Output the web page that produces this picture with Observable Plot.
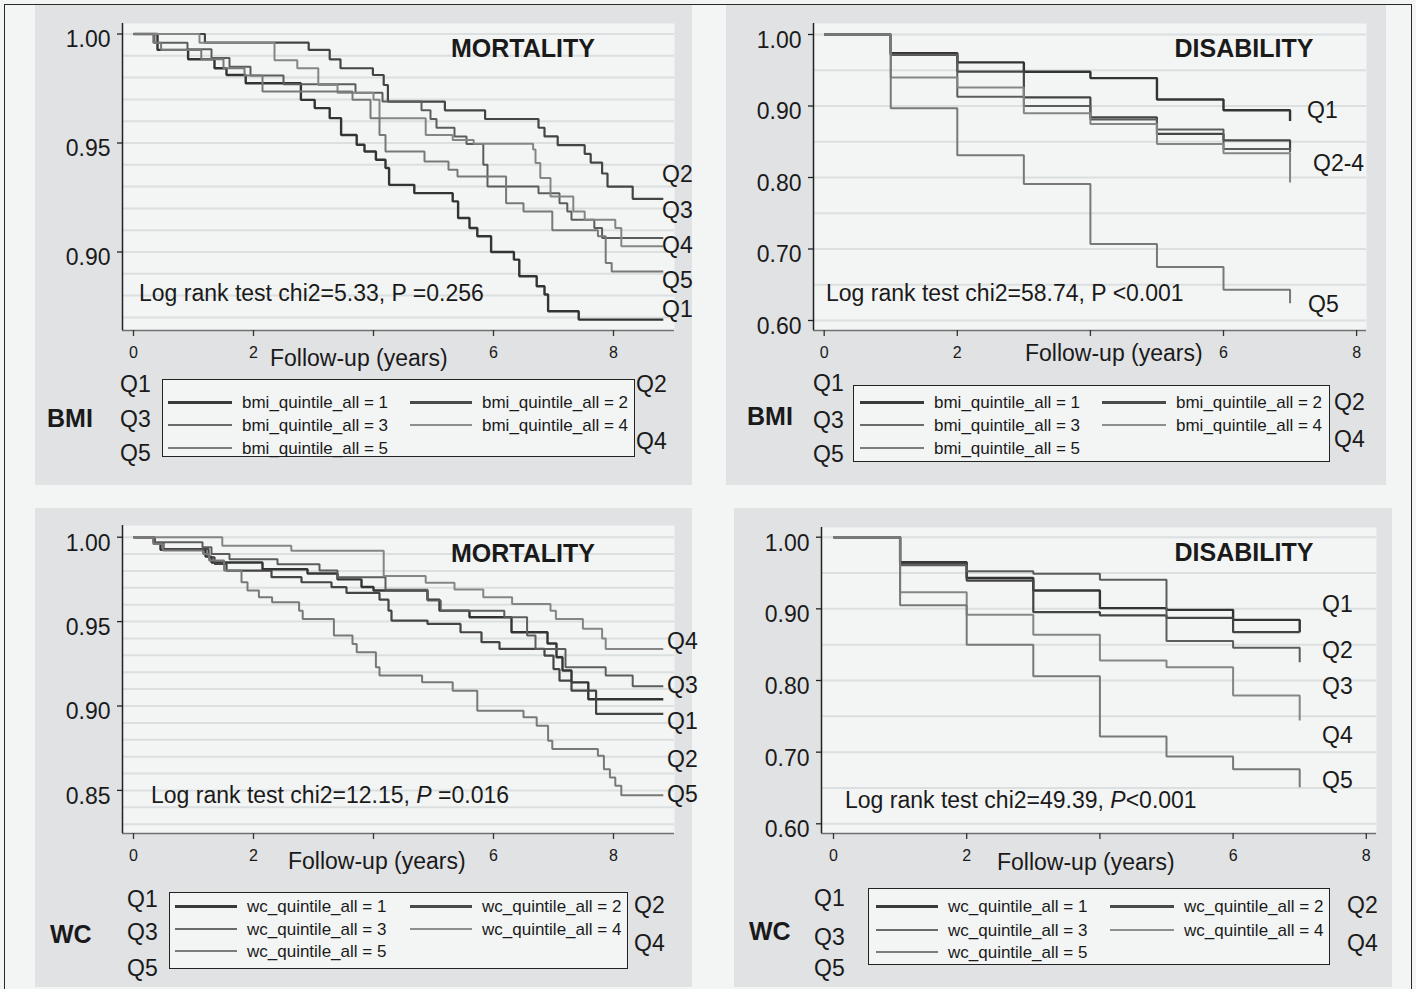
<!DOCTYPE html>
<html>
<head>
<meta charset="utf-8">
<script src="https://cdn.jsdelivr.net/npm/d3@7"></script>
<script src="https://cdn.jsdelivr.net/npm/@observablehq/plot@0.6"></script>
<style>
  html, body { margin: 0; padding: 0; background: #f3f4f4; }
  #fig { position: relative; width: 1416px; height: 989px; overflow: hidden; background: #f3f4f4;
         font-family: "Liberation Sans", Arial, Helvetica, sans-serif; color: #1a1a1a; }
  .abs { position: absolute; white-space: nowrap; line-height: 1; }
</style>
</head>
<body>
<div id="fig"></div>
<script>
// ---------------- DATA ----------------
const quintiles = ["Q1", "Q2", "Q3", "Q4", "Q5"];
const xTicks = [0, 2, 4, 6, 8];
const yTicksMortBmi = [1.00, 0.95, 0.90];
const yTicksMortWc = [1.00, 0.95, 0.90, 0.85];
const yTicksDis = [1.00, 0.90, 0.80, 0.70, 0.60];
const gridMortBmi = [0.87, 0.88, 0.89, 0.90, 0.91, 0.92, 0.93, 0.94, 0.95, 0.96, 0.97, 0.98, 0.99, 1.00];
const gridMortWc = [0.83, 0.84, 0.85, 0.86, 0.87, 0.88, 0.89, 0.90, 0.91, 0.92, 0.93, 0.94, 0.95, 0.96, 0.97, 0.98, 0.99, 1.00];
const gridDis = [0.60, 0.65, 0.70, 0.75, 0.80, 0.85, 0.90, 0.95, 1.00];

// Mortality by BMI quintile: [years, survival]
const bmiMortQ1 = [[0,1],[0.40,0.9927],[0.91,0.9884],[1.35,0.9843],[1.55,0.9812],[1.87,0.9774],[2.79,0.9698],[3.02,0.966],[3.27,0.9614],[3.46,0.9537],[3.72,0.9492],[3.85,0.9461],[4.04,0.9423],[4.20,0.9385],[4.26,0.9308],[4.68,0.927],[5.32,0.9232],[5.41,0.9156],[5.60,0.911],[5.73,0.9072],[5.96,0.900],[6.34,0.8965],[6.43,0.8889],[6.72,0.8843],[6.85,0.8805],[6.91,0.8728],[7.42,0.869],[8.83,0.869]];
const bmiMortQ2 = [[0,1],[1.19,0.996],[2.92,0.9927],[3.27,0.9884],[3.45,0.9843],[3.99,0.9812],[4.17,0.9766],[4.24,0.969],[5.19,0.965],[5.86,0.961],[6.75,0.957],[6.85,0.953],[7.07,0.949],[7.52,0.945],[7.62,0.941],[7.81,0.936],[7.90,0.930],[8.32,0.9244],[8.83,0.9244]];
const bmiMortQ3 = [[0,1],[0.35,0.996],[0.90,0.993],[1.30,0.989],[1.60,0.985],[1.95,0.981],[2.50,0.977],[3.70,0.973],[4.15,0.969],[4.80,0.965],[4.95,0.961],[5.05,0.957],[5.35,0.953],[5.55,0.9495],[5.83,0.940],[5.90,0.930],[6.75,0.927],[7.10,0.9224],[7.23,0.9186],[7.30,0.9148],[7.68,0.911],[7.81,0.9064],[8.83,0.9064]];
const bmiMortQ4 = [[0,1],[1.10,0.996],[2.35,0.988],[2.73,0.9843],[3.08,0.9766],[3.40,0.9731],[4.00,0.9698],[4.10,0.9614],[4.87,0.9537],[5.32,0.9514],[5.67,0.9496],[6.66,0.947],[6.70,0.9408],[6.78,0.934],[6.95,0.9255],[7.33,0.9186],[7.52,0.9148],[8.03,0.911],[8.13,0.9026],[8.83,0.9026]];
const bmiMortQ5 = [[0,1],[0.33,0.996],[0.46,0.9927],[1.13,0.9884],[1.50,0.9843],[1.85,0.981],[2.15,0.9736],[3.65,0.9698],[3.95,0.9614],[4.10,0.9537],[4.20,0.9461],[4.85,0.9415],[5.25,0.9377],[5.40,0.9346],[6.21,0.9224],[6.50,0.9186],[6.98,0.910],[7.74,0.9072],[7.87,0.895],[7.97,0.8911],[8.83,0.8911]];

// Disability by BMI quintile
const bmiDisQ1 = [[0,1],[1,0.974],[2,0.961],[3,0.948],[4,0.939],[5,0.909],[6,0.894],[7,0.879]];
const bmiDisQ2 = [[0,1],[1,0.9716],[2,0.948],[3,0.912],[4,0.884],[5,0.861],[6,0.852],[7,0.838]];
const bmiDisQ3 = [[0,1],[1,0.9716],[2,0.913],[3,0.900],[4,0.881],[5,0.867],[6,0.840],[7,0.835]];
const bmiDisQ4 = [[0,1],[1,0.940],[2,0.926],[3,0.890],[4,0.875],[5,0.847],[6,0.834],[7,0.793]];
const bmiDisQ5 = [[0,1],[1,0.897],[2,0.831],[3,0.791],[4,0.707],[5,0.675],[6,0.643],[7,0.624]];

// Mortality by WC quintile
const wcMortQ1 = [[0,1],[0.35,0.9965],[0.45,0.9925],[1.20,0.9885],[1.30,0.985],[2.15,0.981],[2.90,0.9785],[3.40,0.975],[3.80,0.9705],[4.00,0.9684],[4.90,0.963],[5.10,0.9565],[5.60,0.9526],[6.30,0.9437],[6.90,0.937],[7.05,0.9289],[7.15,0.921],[7.30,0.914],[7.58,0.904],[8.83,0.904]];
const wcMortQ2 = [[0,1],[0.35,0.9965],[0.50,0.993],[1.25,0.9881],[1.35,0.9842],[1.55,0.9802],[2.30,0.9763],[2.80,0.9733],[3.30,0.9704],[3.55,0.967],[4.10,0.963],[4.25,0.9565],[4.30,0.9506],[4.90,0.9486],[5.45,0.9437],[5.80,0.9378],[6.10,0.9338],[6.85,0.9298],[7.00,0.9219],[7.10,0.915],[7.30,0.9091],[7.71,0.8953],[8.83,0.8953]];
const wcMortQ3 = [[0,1],[0.33,0.997],[1.15,0.994],[1.30,0.9901],[1.60,0.987],[2.40,0.984],[3.10,0.9802],[3.40,0.9763],[4.20,0.9688],[4.90,0.9625],[5.12,0.9565],[6.18,0.9526],[6.56,0.9417],[6.70,0.9338],[7.20,0.9229],[7.87,0.918],[8.32,0.9117],[8.83,0.9117]];
const wcMortQ4 = [[0,1],[1.48,0.995],[2.63,0.992],[4.17,0.977],[4.87,0.973],[5.35,0.969],[5.83,0.9644],[6.31,0.9605],[6.95,0.9565],[7.04,0.9516],[7.49,0.9457],[7.81,0.940],[7.87,0.9338],[8.83,0.9338]];
const wcMortQ5 = [[0,1],[0.33,0.996],[0.49,0.9921],[1.16,0.9901],[1.26,0.9862],[1.51,0.9802],[1.80,0.9733],[1.90,0.9684],[2.09,0.9644],[2.31,0.9615],[2.76,0.9565],[2.82,0.9516],[3.34,0.9417],[3.65,0.9368],[3.72,0.9318],[4.04,0.9229],[4.10,0.918],[4.81,0.914],[5.32,0.9091],[5.73,0.8972],[6.50,0.8933],[6.72,0.8883],[6.91,0.8794],[6.98,0.8745],[7.74,0.8706],[7.84,0.8626],[7.94,0.8577],[8.03,0.8528],[8.13,0.8472],[8.83,0.8472]];

// Disability by WC quintile
const wcDisQ1 = [[0,1],[1,0.965],[2,0.943],[3,0.9256],[4,0.901],[5,0.8986],[6,0.8846],[7,0.8674]];
const wcDisQ2 = [[0,1],[1,0.963],[2,0.9395],[3,0.8953],[4,0.891],[5,0.8874],[6,0.8674],[7,0.8674]];
const wcDisQ3 = [[0,1],[1,0.961],[2,0.9526],[3,0.949],[4,0.9405],[5,0.855],[6,0.8456],[7,0.8256]];
const wcDisQ4 = [[0,1],[1,0.923],[2,0.8916],[3,0.864],[4,0.828],[5,0.8186],[6,0.779],[7,0.744]];
const wcDisQ5 = [[0,1],[1,0.905],[2,0.850],[3,0.806],[4,0.722],[5,0.694],[6,0.676],[7,0.651]];

const bmiLegend = ["bmi_quintile_all = 1", "bmi_quintile_all = 2", "bmi_quintile_all = 3", "bmi_quintile_all = 4", "bmi_quintile_all = 5"];
const wcLegend = ["wc_quintile_all = 1", "wc_quintile_all = 2", "wc_quintile_all = 3", "wc_quintile_all = 4", "wc_quintile_all = 5"];

const logRankBmiMort = "Log rank test chi2=5.33, P =0.256";
const logRankBmiDis = "Log rank test chi2=58.74, P &lt;0.001";
const logRankWcMort = "Log rank test chi2=12.15, <i>P</i> =0.016";
const logRankWcDis = "Log rank test chi2=49.39, <i>P</i>&lt;0.001";
const xTitle = "Follow-up (years)";

// ---------------- STYLE ----------------
const lineColors = ["#333333", "#444444", "#5c5c5c", "#858585", "#787878"];
const lineWidths = [2.4, 2.2, 2.0, 2.0, 2.0];
const legColors = ["#3a3a3a", "#4a4a4a", "#6a6a6a", "#8e8e8e", "#7c7c7c"];
const legWidths = [3, 3, 2, 2, 1.5];

// ---------------- LAYOUT ----------------
const panels = [
  { left: 35, top: 5, right: 692, bottom: 485, plotL: 122, plotR: 674, plotT: 23, plotB: 330,
    x0: 133, ppy: 60, y1: 33.5, ppu: 2180, yTicks: yTicksMortBmi, grid: gridMortBmi,
    series: [bmiMortQ1, bmiMortQ2, bmiMortQ3, bmiMortQ4, bmiMortQ5],
    title: ["MORTALITY", 523, 48], logrank: [logRankBmiMort, 139, 293], xtitle: [270, 358],
    endLabels: [["Q2", 662, 174], ["Q3", 662, 210], ["Q4", 662, 245], ["Q5", 662, 280], ["Q1", 662, 309]],
    legend: { x1: 162, x2: 635, y1: 379, y2: 457, rows: [402, 425, 448], cols: [[168, 232, 242], [410, 472, 482]], labels: bmiLegend,
      side: [["Q1", 120, 384], ["Q3", 120, 419], ["Q5", 120, 453], ["Q2", 636, 384], ["Q4", 636, 441]], name: ["BMI", 47, 418] } },
  { left: 726, top: 5, right: 1386, bottom: 485, plotL: 813, plotR: 1366, plotT: 23, plotB: 330,
    x0: 823.7, ppy: 66.55, y1: 34, ppu: 715, yTicks: yTicksDis, grid: gridDis,
    series: [bmiDisQ1, bmiDisQ2, bmiDisQ3, bmiDisQ4, bmiDisQ5],
    title: ["DISABILITY", 1244, 48], logrank: [logRankBmiDis, 826, 293], xtitle: [1025, 353],
    endLabels: [["Q1", 1307, 110], ["Q2-4", 1313, 163], ["Q5", 1308, 304]],
    legend: { x1: 853, x2: 1330, y1: 385, y2: 462, rows: [402, 425, 448], cols: [[860, 924, 934], [1102, 1166, 1176]], labels: bmiLegend,
      side: [["Q1", 813, 383], ["Q3", 813, 420], ["Q5", 813, 454], ["Q2", 1334, 402], ["Q4", 1334, 439]], name: ["BMI", 747, 416] } },
  { left: 35, top: 508, right: 692, bottom: 987, plotL: 122, plotR: 674, plotT: 525, plotB: 833,
    x0: 133, ppy: 60, y1: 536.7, ppu: 1688, yTicks: yTicksMortWc, grid: gridMortWc,
    series: [wcMortQ1, wcMortQ2, wcMortQ3, wcMortQ4, wcMortQ5],
    title: ["MORTALITY", 523, 553], logrank: [logRankWcMort, 151, 795], xtitle: [288, 861],
    endLabels: [["Q4", 667, 641], ["Q3", 667, 685], ["Q1", 667, 721], ["Q2", 667, 759], ["Q5", 667, 794]],
    legend: { x1: 169, x2: 628, y1: 892, y2: 969, rows: [906, 929, 951], cols: [[175, 237, 247], [410, 472, 482]], labels: wcLegend,
      side: [["Q1", 127, 899], ["Q3", 127, 932], ["Q5", 127, 968], ["Q2", 634, 905], ["Q4", 634, 943]], name: ["WC", 50, 934] } },
  { left: 734, top: 508, right: 1392, bottom: 987, plotL: 821, plotR: 1376, plotT: 527, plotB: 833,
    x0: 833, ppy: 66.6, y1: 536.7, ppu: 716.5, yTicks: yTicksDis, grid: gridDis,
    series: [wcDisQ1, wcDisQ2, wcDisQ3, wcDisQ4, wcDisQ5],
    title: ["DISABILITY", 1244, 552], logrank: [logRankWcDis, 845, 800], xtitle: [997, 862],
    endLabels: [["Q1", 1322, 604], ["Q2", 1322, 650], ["Q3", 1322, 686], ["Q4", 1322, 735], ["Q5", 1322, 780]],
    legend: { x1: 868, x2: 1330, y1: 888, y2: 965, rows: [906, 930, 952], cols: [[876, 938, 948], [1110, 1174, 1184]], labels: wcLegend,
      side: [["Q1", 814, 898], ["Q3", 814, 937], ["Q5", 814, 968], ["Q2", 1347, 905], ["Q4", 1347, 943]], name: ["WC", 749, 931] } }
];

const fig = document.getElementById("fig");

function addBox(x, y, w, h, css) {
  const d = document.createElement("div");
  d.style.cssText = `position:absolute;left:${x}px;top:${y}px;width:${w}px;height:${h}px;box-sizing:border-box;${css}`;
  fig.appendChild(d);
  return d;
}
function addText(html, x, y, o = {}) {
  const d = document.createElement("div");
  d.className = "abs";
  d.innerHTML = html;
  d.style.left = x + "px";
  d.style.top = y + "px";
  d.style.fontSize = (o.size || 23) + "px";
  if (o.bold) d.style.fontWeight = "bold";
  d.style.transform = o.center ? "translate(-50%,-50%)" : "translateY(-50%)";
  fig.appendChild(d);
}

for (const p of panels) {
  addBox(p.left, p.top, p.right - p.left, p.bottom - p.top, "background:#e1e2e4;");
}

for (const p of panels) {
  const xDom = [(p.plotL - p.x0) / p.ppy, (p.plotR - p.x0) / p.ppy];
  const yDom = [1 - (p.plotB - p.y1) / p.ppu, 1 + (p.y1 - p.plotT) / p.ppu];
  const marks = [
    Plot.frame({fill: "#f3f5f4", stroke: "none"}),
    Plot.ruleY(p.grid, {stroke: "#dcdfe0", strokeWidth: 2}),
    Plot.ruleY([yDom[0]], {stroke: "#707070", strokeWidth: 1.5}),
    Plot.ruleX([xDom[0]], {stroke: "#222222", strokeWidth: 1.5}),
    ...p.series.map((s, i) => Plot.line(s, {
      x: d => d[0], y: d => d[1], curve: "step-after",
      stroke: lineColors[i], strokeWidth: lineWidths[i], strokeLinejoin: "miter", strokeLinecap: "butt"
    })),
    Plot.axisX(xTicks, {tickSize: 6, tickPadding: 10, fontSize: 16, stroke: "#333", strokeWidth: 1.3,
      tickFormat: d => (d === 4 ? "" : String(d)), label: null}),
    Plot.axisY(p.yTicks, {tickSize: 5, fill: "none", stroke: "#222", strokeWidth: 1.3, label: null}),
    Plot.axisY(p.yTicks, {tickSize: 5, tickPadding: 7, stroke: "none", dy: 6, fontSize: 23,
      tickFormat: d3.format(".2f"), label: null})
  ];
  const svg = Plot.plot({
    width: p.right - p.left,
    height: p.bottom - p.top,
    marginLeft: p.plotL - p.left,
    marginRight: p.right - p.plotR,
    marginTop: p.plotT - p.top,
    marginBottom: p.bottom - p.plotB,
    x: {domain: xDom},
    y: {domain: yDom},
    style: {background: "transparent", overflow: "visible", color: "#1a1a1a",
            fontFamily: "'Liberation Sans', Arial, Helvetica, sans-serif"},
    marks
  });
  svg.style.position = "absolute";
  svg.style.left = p.left + "px";
  svg.style.top = p.top + "px";
  fig.appendChild(svg);

  // annotations
  addText(p.title[0], p.title[1], p.title[2], {bold: true, size: 25, center: true});
  addText(p.logrank[0], p.logrank[1], p.logrank[2], {size: 23});
  addText(xTitle, p.xtitle[0], p.xtitle[1], {size: 23});
  for (const [lab, x, y] of p.endLabels) addText(lab, x, y, {size: 23});

  // legend
  const L = p.legend;
  addBox(L.x1, L.y1, L.x2 - L.x1, L.y2 - L.y1, "border:1.5px solid #222;background:#f3f5f4;");
  L.labels.forEach((lab, i) => {
    const col = i % 2, row = Math.floor(i / 2);
    const y = L.rows[row];
    const [lx1, lx2, tx] = L.cols[col];
    addBox(lx1, y - legWidths[i] / 2, lx2 - lx1, legWidths[i], `background:${legColors[i]};`);
    addText(lab, tx, y, {size: 17});
  });
  for (const [lab, x, y] of L.side) addText(lab, x, y, {size: 23});
  addText(L.name[0], L.name[1], L.name[2], {bold: true, size: 25});
}

// outer border
addBox(4, 4, 1408, 995, "border:1.5px solid #2a2a2a;pointer-events:none;");
</script>
</body>
</html>
